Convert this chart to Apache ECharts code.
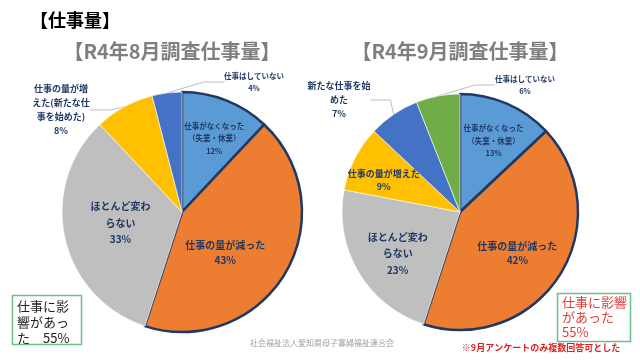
<!DOCTYPE html>
<html>
<head>
<meta charset="utf-8">
<script src="https://cdn.jsdelivr.net/npm/echarts@6/dist/echarts.min.js"></script>
<style>html,body{margin:0;padding:0;background:#fff}#c{width:640px;height:360px}</style>
</head>
<body>
<div id="c"></div>
<script>
// ---- data ----
const mainTitle = '【仕事量】';
const title1 = '【R4年8月調査仕事量】';
const title2 = '【R4年9月調査仕事量】';
const cats1 = ['仕事がなくなった\n（失業・休業）', '仕事の量が減った', 'ほとんど変わ\nらない', '仕事の量が増\nえた(新たな仕\n事を始めた)', '仕事はしていない'];
const vals1 = [12, 43, 33, 8, 4];
const cats2 = ['仕事がなくなった\n（失業・休業）', '仕事の量が減った', 'ほとんど変わ\nらない', '仕事の量が増えた', '新たな仕事を始\nめた', '仕事はしていない'];
const vals2 = [13, 42, 23, 9, 7, 6];
const box1Text = '仕事に影\n響があっ\nた　55%';
const box2Text = '仕事に影響\nがあった\n55%';
const noteText = '※9月アンケートのみ複数回答可とした';
const footerText = '社会福祉法人愛知県母子寡婦福祉連合会';

// ---- styles ----
const FONT = '"Noto Sans CJK JP", "Noto Sans", sans-serif';
const NAVY = '#1F3864';
const colors1 = ['#5B9BD5', '#ED7D31', '#BFBFBF', '#FFC000', '#4472C4'];
const colors2 = ['#5B9BD5', '#ED7D31', '#BFBFBF', '#FFC000', '#4472C4', '#70AD47'];
// label style per slice: font size, line height, placement
const lab1 = [
  {fs: 7.5, lh: 12.5, pos: 'inside', lay: {dx: 9, dy: -15}},
  {fs: 10, lh: 15, pos: 'inside', lay: {dx: -11, dy: 9}},
  {fs: 10, lh: 16.5, pos: 'inside', lay: {dx: 0, dy: -3}},
  {fs: 9, lh: 14, pos: 'outside', lay: {x: 61, y: 110, align: 'center', verticalAlign: 'middle'}},
  {fs: 7.5, lh: 12.5, pos: 'outside', lay: {x: 254, y: 82, align: 'center', verticalAlign: 'middle'}}
];
const lab2 = [
  {fs: 7.5, lh: 12.5, pos: 'inside', lay: {dx: 9, dy: -14}},
  {fs: 10, lh: 14.5, pos: 'inside', lay: {dx: 5, dy: 8}},
  {fs: 10, lh: 16.5, pos: 'inside', lay: {dx: -9, dy: 10}},
  {fs: 9, lh: 13.5, pos: 'inside', lay: {dx: -21, dy: -4}},
  {fs: 9, lh: 14, pos: 'outside', lay: {x: 339, y: 100, align: 'center', verticalAlign: 'middle'}},
  {fs: 7.5, lh: 12.5, pos: 'outside', lay: {x: 525, y: 85, align: 'center', verticalAlign: 'middle'}}
];

function buildData(cats, vals, colors, labs) {
  return cats.map((n, i) => ({
    name: n,
    value: vals[i],
    itemStyle: i < 2
      ? {color: colors[i], borderColor: NAVY, borderWidth: 2.5}
      : {color: colors[i], borderColor: '#ffffff', borderWidth: 0.6},
    label: {position: labs[i].pos, fontSize: labs[i].fs, lineHeight: labs[i].lh},
    labelLine: {show: labs[i].pos === 'outside'}
  }));
}

function pieSeries(cats, vals, colors, labs, center, radius) {
  return {
    type: 'pie',
    center: center,
    radius: radius,
    startAngle: 90,
    clockwise: true,
    silent: true,
    animation: false,
    avoidLabelOverlap: false,
    data: buildData(cats, vals, colors, labs),
    label: {
      show: true,
      formatter: '{b}\n{c}%',
      color: NAVY,
      fontWeight: 'bold',
      fontFamily: FONT,
      align: 'center'
    },
    labelLine: {lineStyle: {color: '#BFBFBF', width: 1}, length: 10, length2: 20, smooth: false},
    labelLayout: function (p) { return labs[p.dataIndex].lay; },
    emphasis: {disabled: true}
  };
}

const chart = echarts.init(document.getElementById('c'), null, {renderer: 'canvas'});
chart.setOption({
  backgroundColor: '#ffffff',
  animation: false,
  series: [
    pieSeries(cats1, vals1, colors1, lab1, [182, 212], 120),
    pieSeries(cats2, vals2, colors2, lab2, [460, 212], 118)
  ],
  graphic: [
    {type: 'text', left: 30, top: 11, style: {text: mainTitle, fontSize: 18, fontWeight: 'bold', fill: '#000', fontFamily: FONT}},
    {type: 'text', x: 172, y: 51, style: {text: title1, fontSize: 20, fontWeight: 'bold', fill: '#7F7F7F', fontFamily: FONT, align: 'center', verticalAlign: 'middle'}},
    {type: 'text', x: 460, y: 51, style: {text: title2, fontSize: 20, fontWeight: 'bold', fill: '#7F7F7F', fontFamily: FONT, align: 'center', verticalAlign: 'middle'}},
    {type: 'rect', shape: {x: 12.5, y: 295.5, width: 69, height: 49}, style: {fill: '#fff', stroke: '#6CBF86', lineWidth: 1.5}},
    {type: 'text', x: 17, y: 298, style: {text: box1Text, fontSize: 13, lineHeight: 16, fill: '#222', fontFamily: FONT}},
    {type: 'rect', shape: {x: 557.5, y: 293.5, width: 73, height: 48}, style: {fill: '#fff', stroke: '#6CBF86', lineWidth: 1.5}},
    {type: 'text', x: 562, y: 295, style: {text: box2Text, fontSize: 13, lineHeight: 15, fill: '#E03C3C', fontFamily: FONT}},
    {type: 'text', x: 541, y: 348, style: {text: noteText, fontSize: 9, fontWeight: 'bold', fill: '#E02020', fontFamily: FONT, align: 'center', verticalAlign: 'middle'}},
    {type: 'text', x: 322, y: 343, style: {text: footerText, fontSize: 8, fill: '#A0A0A0', fontFamily: FONT, align: 'center', verticalAlign: 'middle'}}
  ]
});
</script>
</body>
</html>
